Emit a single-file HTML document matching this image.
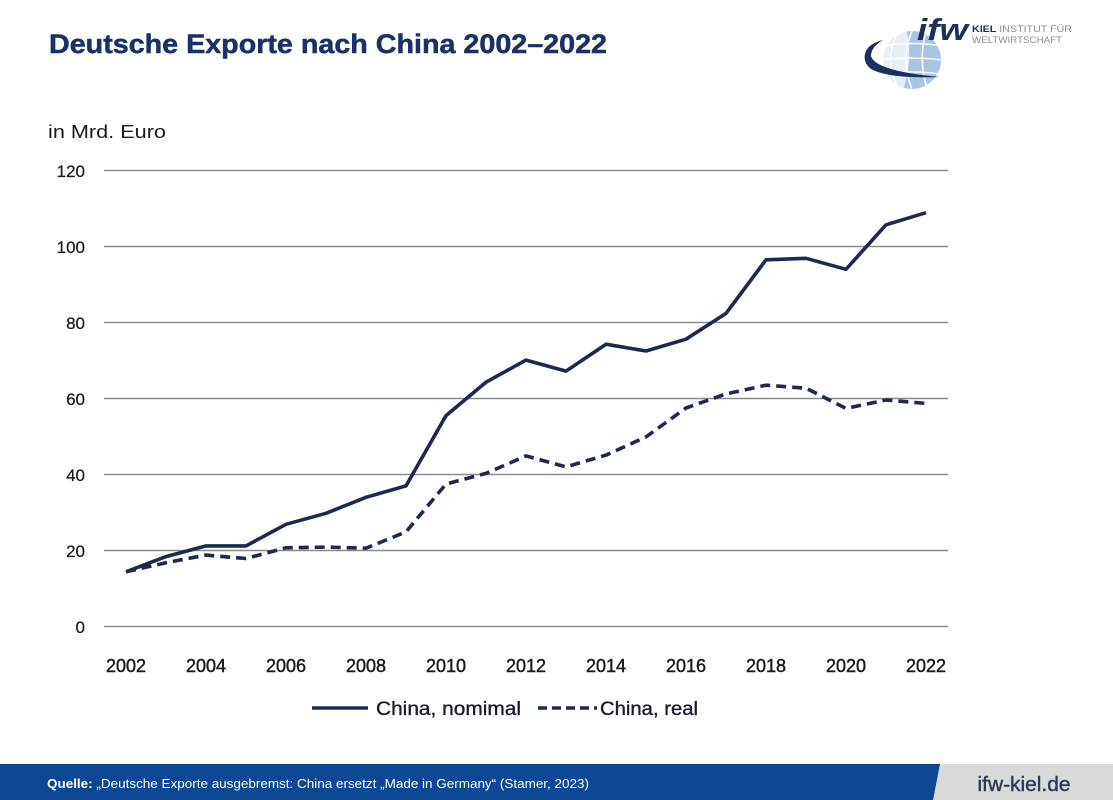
<!DOCTYPE html>
<html><head><meta charset="utf-8"><style>
html,body{margin:0;padding:0;background:#fff;}
svg{display:block;}
</style></head><body>
<svg width="1113" height="800" viewBox="0 0 1113 800" xmlns="http://www.w3.org/2000/svg" font-family="Liberation Sans, sans-serif">
<rect width="1113" height="800" fill="#ffffff"/>
<!-- Title -->
<text x="49" y="53" font-size="26.5" font-weight="bold" fill="#1b3068" stroke="#1b3068" stroke-width="0.5" textLength="558" lengthAdjust="spacingAndGlyphs">Deutsche Exporte nach China 2002–2022</text>
<!-- Logo -->
<g>
  <clipPath id="gc"><circle cx="912" cy="60" r="29"/></clipPath>
  <circle cx="912" cy="60" r="29" fill="#e8eef6"/>
  <g clip-path="url(#gc)">
    <path d="M906 28 L945 28 L945 92 L902 92 Q914 62 906 28 Z" fill="#aac4e5"/>
    <g stroke="#ffffff" stroke-width="1.6" fill="none" opacity="0.9">
      <path d="M883 46 Q912 41 942 46"/>
      <path d="M882 60 Q912 56 942 60"/>
      <path d="M884 74 Q912 70 940 74"/>
      <path d="M912 31 Q900 60 912 89"/>
      <path d="M926 32 Q918 60 927 88"/>
      <path d="M897 34 Q884 60 897 86"/>
    </g>
  </g>
  <path d="M865 54 Q867 44 883 40 Q871 47 871 56 Q875 71 940 77 Q889 79 871 69 Q863 63 865 54 Z" fill="#1d2f5e"/>
  <text x="917" y="40" font-size="31" font-weight="bold" font-style="italic" fill="#1d2f5e" textLength="51" lengthAdjust="spacingAndGlyphs">ifw</text>
  <text x="972" y="32" font-size="9.3" fill="#8a8f98" textLength="100" lengthAdjust="spacingAndGlyphs"><tspan font-weight="bold" fill="#1d2f5e">KIEL</tspan> INSTITUT FÜR</text>
  <text x="972" y="43" font-size="9.3" fill="#8a8f98" textLength="90" lengthAdjust="spacingAndGlyphs">WELTWIRTSCHAFT</text>
</g>
<!-- Unit -->
<text x="48" y="138" font-size="18" fill="#1a1a1a" textLength="118" lengthAdjust="spacingAndGlyphs">in Mrd. Euro</text>
<!-- Gridlines -->
<g stroke="#8c8c8c" stroke-width="1.5">
  <line x1="104" y1="170.5" x2="948" y2="170.5"/>
  <line x1="104" y1="246.5" x2="948" y2="246.5"/>
  <line x1="104" y1="322.5" x2="948" y2="322.5"/>
  <line x1="104" y1="398.5" x2="948" y2="398.5"/>
  <line x1="104" y1="474.5" x2="948" y2="474.5"/>
  <line x1="104" y1="550.5" x2="948" y2="550.5"/>
  <line x1="104" y1="626.5" x2="948" y2="626.5"/>
</g>
<!-- Y labels -->
<g font-size="17" fill="#1a1a1a" text-anchor="end" stroke="#1a1a1a" stroke-width="0.25">
  <text x="85" y="177">120</text>
  <text x="85" y="253">100</text>
  <text x="85" y="329">80</text>
  <text x="85" y="405">60</text>
  <text x="85" y="481">40</text>
  <text x="85" y="557">20</text>
  <text x="85" y="633">0</text>
</g>
<!-- X labels -->
<g font-size="18" fill="#1a1a1a" text-anchor="middle" stroke="#1a1a1a" stroke-width="0.45">
  <text x="126" y="672">2002</text>
  <text x="206" y="672">2004</text>
  <text x="286" y="672">2006</text>
  <text x="366" y="672">2008</text>
  <text x="446" y="672">2010</text>
  <text x="526" y="672">2012</text>
  <text x="606" y="672">2014</text>
  <text x="686" y="672">2016</text>
  <text x="766" y="672">2018</text>
  <text x="846" y="672">2020</text>
  <text x="926" y="672">2022</text>
</g>
<!-- Series -->
<polyline fill="none" stroke="#1c2a4d" stroke-width="3.6" stroke-linejoin="round" points="126,571.8 166,556.6 206,545.9 246,545.9 286,524.3 326,513.3 366,497.3 406,485.9 446,415.6 486,382.2 526,360.1 566,371.1 606,344.2 646,351.0 686,339.2 726,313.4 766,259.8 806,258.3 846,269.3 886,224.8 926,212.7"/>
<polyline fill="none" stroke="#1c2a4d" stroke-width="3.6" stroke-dasharray="10 6" stroke-linejoin="round" points="126,571.8 166,562.7 206,555.1 246,558.5 286,547.8 326,547.1 366,548.2 406,531.9 446,484.0 486,473.4 526,455.9 566,466.9 606,455.1 646,436.9 686,408.0 726,393.9 766,385.2 806,388.2 846,408.4 886,400.0 926,403.4"/>
<!-- Legend -->
<line x1="312" y1="708" x2="368" y2="708" stroke="#1c2a4d" stroke-width="3.6"/>
<text x="376" y="715" font-size="19" fill="#1a1a2e" stroke="#1a1a2e" stroke-width="0.35" textLength="145" lengthAdjust="spacingAndGlyphs">China, nomimal</text>
<line x1="538" y1="708" x2="597" y2="708" stroke="#1c2a4d" stroke-width="3.6" stroke-dasharray="9 5"/>
<text x="600" y="715" font-size="19" fill="#1a1a2e" stroke="#1a1a2e" stroke-width="0.35" textLength="98" lengthAdjust="spacingAndGlyphs">China, real</text>
<!-- Footer -->
<rect x="0" y="764" width="1113" height="36" fill="#d9d9d9"/>
<polygon points="0,764 940,764 933,800 0,800" fill="#0c4894"/>
<line x1="0" y1="764.5" x2="940" y2="764.5" stroke="#0a3a78" stroke-width="1"/>
<text x="47" y="788" font-size="12.5" fill="#ffffff" textLength="542" lengthAdjust="spacingAndGlyphs"><tspan font-weight="bold">Quelle:</tspan> „Deutsche Exporte ausgebremst: China ersetzt „Made in Germany“ (Stamer, 2023)</text>
<text x="1024" y="791" font-size="20" fill="#2b3a55" stroke="#2b3a55" stroke-width="0.4" text-anchor="middle" textLength="93" lengthAdjust="spacingAndGlyphs">ifw-kiel.de</text>
</svg>
</body></html>
